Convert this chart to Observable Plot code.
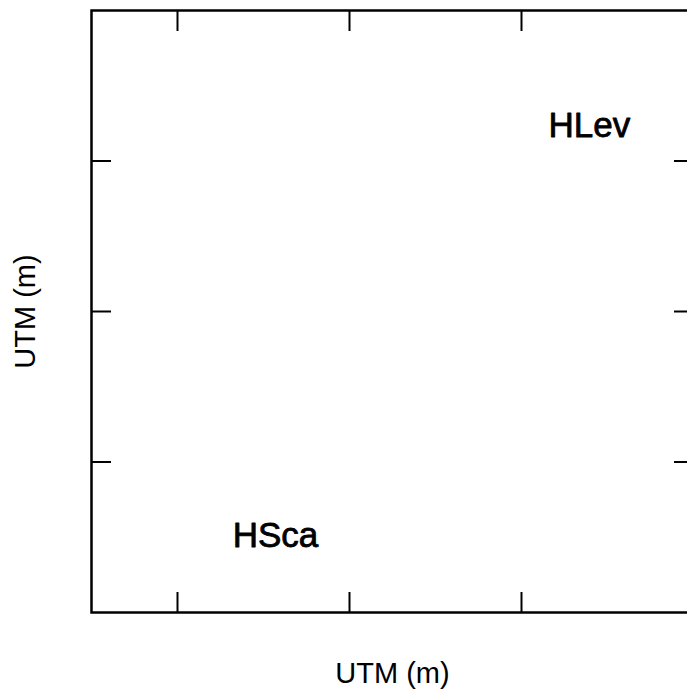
<!DOCTYPE html>
<html>
<head>
<meta charset="utf-8">
<script src="https://cdn.jsdelivr.net/npm/d3@7"></script>
<script src="https://cdn.jsdelivr.net/npm/@observablehq/plot@0.6"></script>
<style>
  html, body { margin: 0; padding: 0; background: #fff; overflow: hidden; }
  #chart { width: 687px; height: 694px; overflow: hidden; }
  #chart svg { max-width: none !important; display: block; }
</style>
</head>
<body>
<div id="chart"></div>
<script>
// Data
const xTicks = [0.5, 1.5, 2.5];
const yTicks = [1, 2, 3];
const siteNames = ["HLev", "HSca"];
const siteX = [2.895, 1.07];
const siteY = [3.236, 0.512];
const axisLabelText = "UTM (m)";

const sites = siteNames.map((name, i) => ({name, x: siteX[i], y: siteY[i]}));

const common = {tickFormat: () => "", strokeWidth: 2, tickSize: -20};

const chart = Plot.plot({
  width: 700,
  height: 694,
  marginLeft: 91,
  marginRight: 7,
  marginTop: 10,
  marginBottom: 82,
  style: {fontFamily: "'Liberation Sans', Arial, Helvetica, sans-serif", background: "#fff", color: "#000", maxWidth: "none"},
  x: {domain: [0, 3.5]},
  y: {domain: [0, 4]},
  marks: [
    Plot.frame({stroke: "#000", strokeWidth: 2.5}),
    Plot.axisX(xTicks, {...common, anchor: "bottom", label: axisLabelText, labelAnchor: "center", labelOffset: 70, labelArrow: false, fontSize: 29}),
    Plot.axisX(xTicks, {...common, anchor: "top", label: null}),
    Plot.axisY(yTicks, {...common, anchor: "left", label: axisLabelText, labelAnchor: "center", labelOffset: 77, labelArrow: false, fontSize: 29}),
    Plot.axisY(yTicks, {...common, anchor: "right", label: null}),
    Plot.text(sites, {x: "x", y: "y", text: "name", fontSize: 35, textAnchor: "middle", lineAnchor: "middle", fill: "#000", stroke: "#000", strokeWidth: 0.8})
  ]
});
document.getElementById("chart").appendChild(chart);
</script>
</body>
</html>
